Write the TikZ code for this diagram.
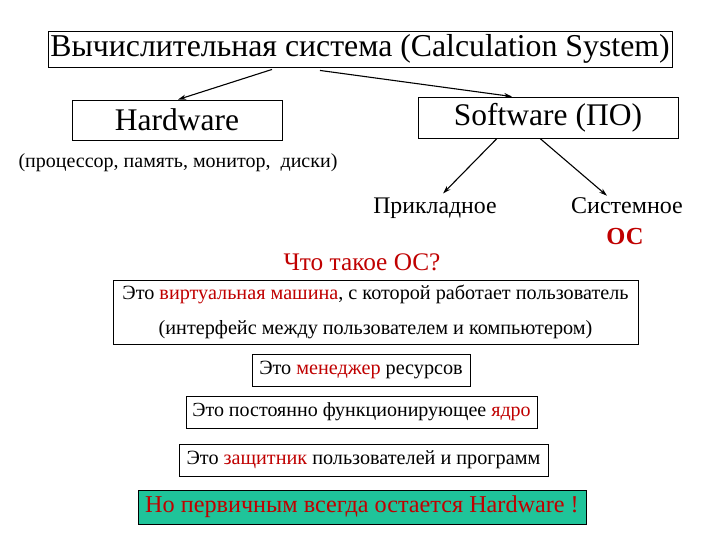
\documentclass[tikz,border=0pt]{standalone}
\usepackage{fontspec}
\setmainfont{Liberation Serif}
\usetikzlibrary{arrows.meta}
\definecolor{txtred}{HTML}{C00000}
\definecolor{boxgreen}{HTML}{1FC49A}
\tikzset{
  bx/.style={draw=black, line width=0.9pt, inner sep=0pt, align=center},
  lbl/.style={inner sep=0pt, align=center},
  arr/.style={-{Stealth[length=8pt,width=5pt]}, line width=1.1pt},
}
\begin{document}
\begin{tikzpicture}[x=1pt,y=-1pt]
\useasboundingbox (0,0) rectangle (720,540);
\fill[white] (0,0) rectangle (720,540);
\node[bx, minimum width=624pt, minimum height=36pt, font=\fontsize{31.8}{34}\selectfont] (sys) at (360,49) {Вычислительная система (Calculation System)};
\node[bx, minimum width=210pt, minimum height=40pt, font=\fontsize{31.5}{34}\selectfont] (hw) at (177,120) {Hardware};
\node[bx, minimum width=260pt, minimum height=41pt, font=\fontsize{31.5}{34}\selectfont] (sw) at (548,117.5) {Software (ПО)};
\node[lbl, font=\fontsize{20}{24}\selectfont] (hwl) at (178,163) {(процессор, память, монитор,\ \ диски)};
\node[lbl, font=\fontsize{23.8}{28}\selectfont] (app) at (435,208) {Прикладное};
\node[lbl, font=\fontsize{24}{28}\selectfont] (sysw) at (627,206) {Системное};
\node[lbl, font=\fontsize{24.5}{28}\selectfont\bfseries, text=txtred] (os) at (625,237) {ОС};
\node[lbl, font=\fontsize{25.3}{28}\selectfont, text=txtred] (q) at (362,262) {Что такое ОС?};
\node[bx, minimum width=525pt, minimum height=64pt, font=\fontsize{20.2}{35}\selectfont] (vm) at (375.5,312) {Это {\color{txtred}виртуальная машина}, с которой работает пользователь\\(интерфейс между пользователем и компьютером)};
\node[bx, minimum width=218pt, minimum height=32pt, font=\fontsize{20.2}{24}\selectfont] (mgr) at (361,370) {Это {\color{txtred}менеджер} ресурсов};
\node[bx, minimum width=351pt, minimum height=32pt, font=\fontsize{20}{24}\selectfont] (core) at (361.5,412) {Это постоянно функционирующее {\color{txtred}ядро}};
\node[bx, minimum width=369pt, minimum height=32pt, font=\fontsize{20.2}{24}\selectfont] (prot) at (363.5,460) {Это {\color{txtred}защитник} пользователей и программ};
\node[bx, fill=boxgreen, text=txtred, minimum width=448pt, minimum height=34pt, font=\fontsize{24.2}{28}\selectfont] (hwm) at (362,507) {Но первичным всегда остается Hardware !};
\draw[arr] ([xshift=-88pt,yshift=-2pt]sys.south) -- ([xshift=1pt]hw.north);
\draw[arr] ([xshift=-40pt,yshift=-3pt]sys.south) -- ([xshift=-36pt]sw.north);
\draw[arr] ([xshift=-51pt]sw.south) -- ([xshift=8pt,yshift=4pt]app.north);
\draw[arr] ([xshift=-8pt]sw.south) -- ([xshift=-20pt,yshift=2pt]sysw.north);
\end{tikzpicture}
\end{document}
